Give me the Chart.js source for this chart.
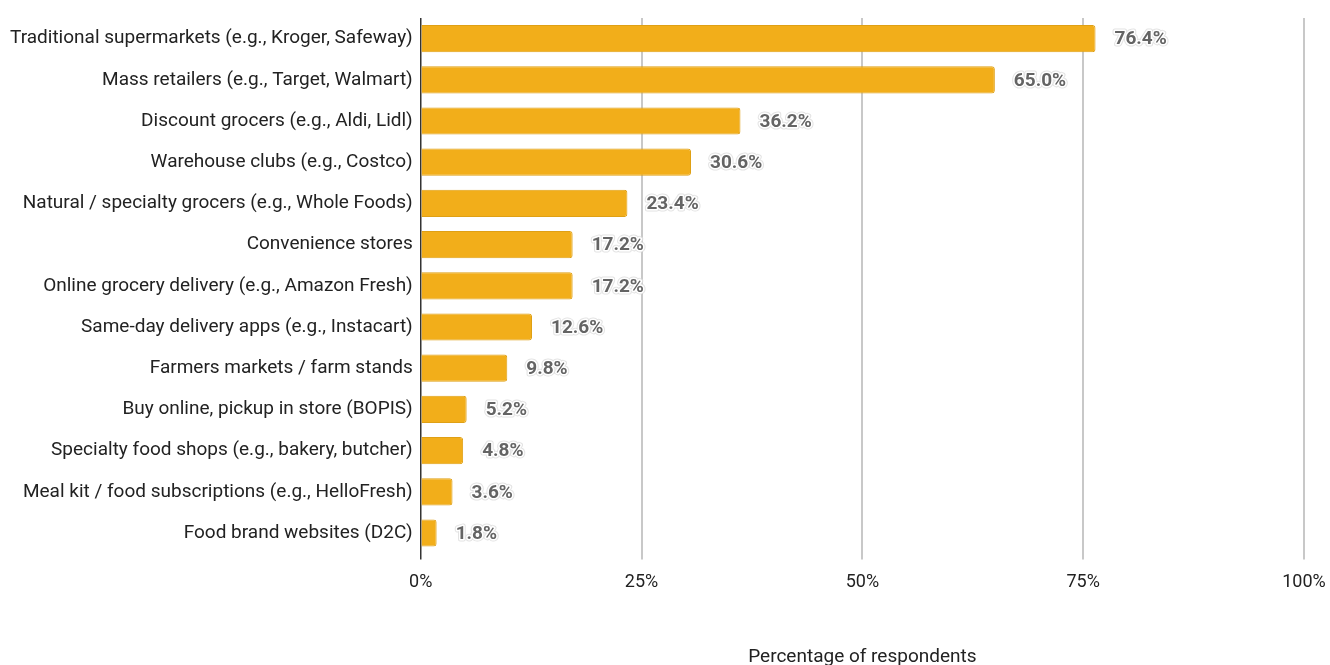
<!DOCTYPE html>
<html>
<head>
<meta charset="utf-8">
<script src="https://cdn.jsdelivr.net/npm/chart.js@4.4.1/dist/chart.umd.min.js"></script>
<style>
  body { margin: 0; background: #fff; }
  #wrap { width: 1330px; height: 665px; }
</style>
</head>
<body>
<div id="wrap"><canvas id="myChart"></canvas></div>
<script>
// channels where people buy groceries
const channels = [
  'Traditional supermarkets (e.g., Kroger, Safeway)',
  'Mass retailers (e.g., Target, Walmart)',
  'Discount grocers (e.g., Aldi, Lidl)',
  'Warehouse clubs (e.g., Costco)',
  'Natural / specialty grocers (e.g., Whole Foods)',
  'Convenience stores',
  'Online grocery delivery (e.g., Amazon Fresh)',
  'Same-day delivery apps (e.g., Instacart)',
  'Farmers markets / farm stands',
  'Buy online, pickup in store (BOPIS)',
  'Specialty food shops (e.g., bakery, butcher)',
  'Meal kit / food subscriptions (e.g., HelloFresh)',
  'Food brand websites (D2C)'
];
const percentages = [76.4, 65.0, 36.2, 30.6, 23.4, 17.2, 17.2, 12.6, 9.8, 5.2, 4.8, 3.6, 1.8];
const xTicks = [0, 25, 50, 75, 100];

// etiqueta de valor al final de cada barra
const valueLabels = {
  id: 'valueLabels',
  afterDatasetsDraw(chart) {
    const ctx = chart.ctx;
    const meta = chart.getDatasetMeta(0);
    ctx.save();
    ctx.font = 'bold 19px Roboto';
    ctx.textBaseline = 'middle';
    ctx.textAlign = 'left';
    ctx.lineJoin = 'round';
    meta.data.forEach((bar, i) => {
      const txt = percentages[i].toFixed(1) + '%';
      const x = bar.x + 19;
      const y = bar.y + 1;
      ctx.strokeStyle = 'rgba(220,220,220,0.8)';
      ctx.lineWidth = 5;
      ctx.strokeText(txt, x, y);
      ctx.strokeStyle = '#fff';
      ctx.lineWidth = 3;
      ctx.strokeText(txt, x, y);
      ctx.fillStyle = '#646464';
      ctx.fillText(txt, x, y);
    });
    ctx.restore();
  }
};

new Chart('myChart', {
  type: 'bar',
  data: {
    labels: channels,
    datasets: [{
      data: percentages,
      backgroundColor: '#F2AE1A',
      borderColor: '#DFA015',
      borderWidth: 1,
      borderRadius: 3,
      borderSkipped: 'start',
      categoryPercentage: 1,
      barPercentage: 0.66
    }]
  },
  options: {
    indexAxis: 'y',
    responsive: true,
    maintainAspectRatio: false,
    animation: false,
    layout: { padding: { top: 18, right: 0, left: 10, bottom: -4 } },
    plugins: {
      legend: { display: false },
      tooltip: { enabled: false }
    },
    scales: {
      x: {
        min: 0,
        max: 100,
        afterBuildTicks: (scale) => { scale.ticks = xTicks.map(v => ({ value: v })); },
        afterFit: (scale) => { scale.paddingRight = 26; },
        grid: {
          color: (c) => c.tick && c.tick.value === 0 ? '#333' : '#c8c8c8',
          lineWidth: (c) => c.tick && c.tick.value === 0 ? 1.5 : 2,
          drawTicks: true,
          tickLength: 6
        },
        border: { display: false },
        ticks: {
          color: '#222',
          font: { family: 'Roboto', size: 18 },
          padding: 12,
          callback: (v) => v + '%'
        },
        title: {
          display: true,
          text: 'Percentage of respondents',
          color: '#222',
          font: { family: 'Roboto', size: 19 },
          padding: { top: 41, bottom: 0 }
        }
      },
      y: {
        grid: { display: false },
        border: { display: false },
        ticks: {
          color: '#222',
          font: { family: 'Roboto', size: 19 },
          padding: 0,
          autoSkip: false
        }
      }
    }
  },
  plugins: [valueLabels]
});
</script>
</body>
</html>
